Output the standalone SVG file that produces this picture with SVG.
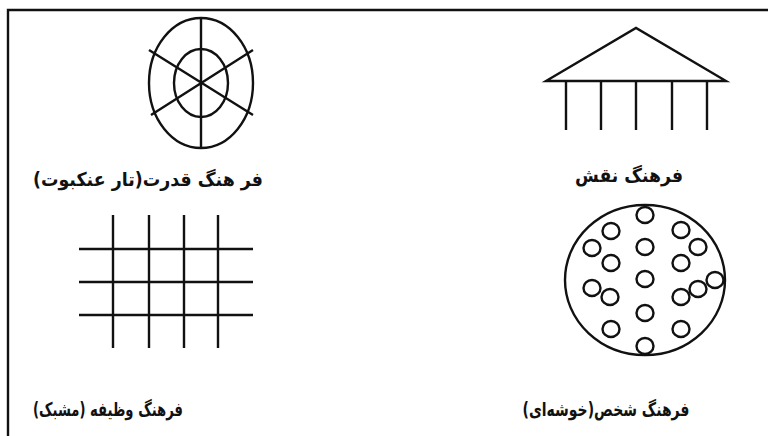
<svg xmlns="http://www.w3.org/2000/svg" width="768" height="436" viewBox="0 0 768 436">
<style>
.s{fill:none;stroke:#111;stroke-width:2.4;stroke-linecap:butt}
.t{font-family:"DejaVu Sans","Noto Sans",sans-serif;font-weight:bold;font-size:19px;fill:#111;text-anchor:middle;direction:rtl;unicode-bidi:embed}
</style>
<rect width="768" height="436" fill="#fff"/>
<g id="frame"><path class="s" d="M8,436 V10 H768"/></g>
<g id="power">
<ellipse class="s" cx="201" cy="83" rx="52" ry="65"/>
<ellipse class="s" cx="201" cy="83" rx="27" ry="34"/>
<path class="s" d="M201,18 V148 M149,50 L253,115 M151,115 L253,50"/>
<text class="t" x="148" y="186" textLength="230" lengthAdjust="spacingAndGlyphs">فر هنگ قدرت(تار عنکبوت)</text>
</g>
<g id="role">
<path class="s" d="M546,81 L636,28 L726,81 Z"/>
<path class="s" d="M566,81 V130 M601,81 V130 M636,81 V130 M672,81 V130 M707,81 V130"/>
<text class="t" x="629" y="182" textLength="108" lengthAdjust="spacingAndGlyphs">فرهنگ نقش</text>
</g>
<g id="task">
<path class="s" d="M113,215 V348 M149,215 V348 M184,215 V348 M218,215 V348 M79,249 H253 M79,282 H253 M79,315 H253"/>
<text class="t" x="108" y="416" textLength="150" lengthAdjust="spacingAndGlyphs">فرهنگ وظیفه (مشبک)</text>
</g>
<g id="person">
<ellipse class="s" cx="645" cy="280" rx="80" ry="75"/>
<g class="s">
<ellipse cx="645" cy="215" rx="8.5" ry="8"/>
<ellipse cx="611" cy="231" rx="8.5" ry="8"/>
<ellipse cx="681" cy="230" rx="8.5" ry="8"/>
<ellipse cx="592" cy="248" rx="8.5" ry="8"/>
<ellipse cx="645" cy="247" rx="8.5" ry="8"/>
<ellipse cx="698" cy="247" rx="8.5" ry="8"/>
<ellipse cx="611" cy="263" rx="8.5" ry="8"/>
<ellipse cx="681" cy="263" rx="8.5" ry="8"/>
<ellipse cx="645" cy="279" rx="8.5" ry="8"/>
<ellipse cx="715" cy="280" rx="8.5" ry="8"/>
<ellipse cx="592" cy="288" rx="8.5" ry="8"/>
<ellipse cx="610" cy="297" rx="8.5" ry="8"/>
<ellipse cx="681" cy="297" rx="8.5" ry="8"/>
<ellipse cx="698" cy="289" rx="8.5" ry="8"/>
<ellipse cx="645" cy="313" rx="8.5" ry="8"/>
<ellipse cx="611" cy="329" rx="8.5" ry="8"/>
<ellipse cx="681" cy="329" rx="8.5" ry="8"/>
<ellipse cx="645" cy="346" rx="8.5" ry="8"/>
</g>
<text class="t" x="606" y="416" textLength="167" lengthAdjust="spacingAndGlyphs">فرهنگ شخص(خوشه‌ای)</text>
</g>
</svg>
